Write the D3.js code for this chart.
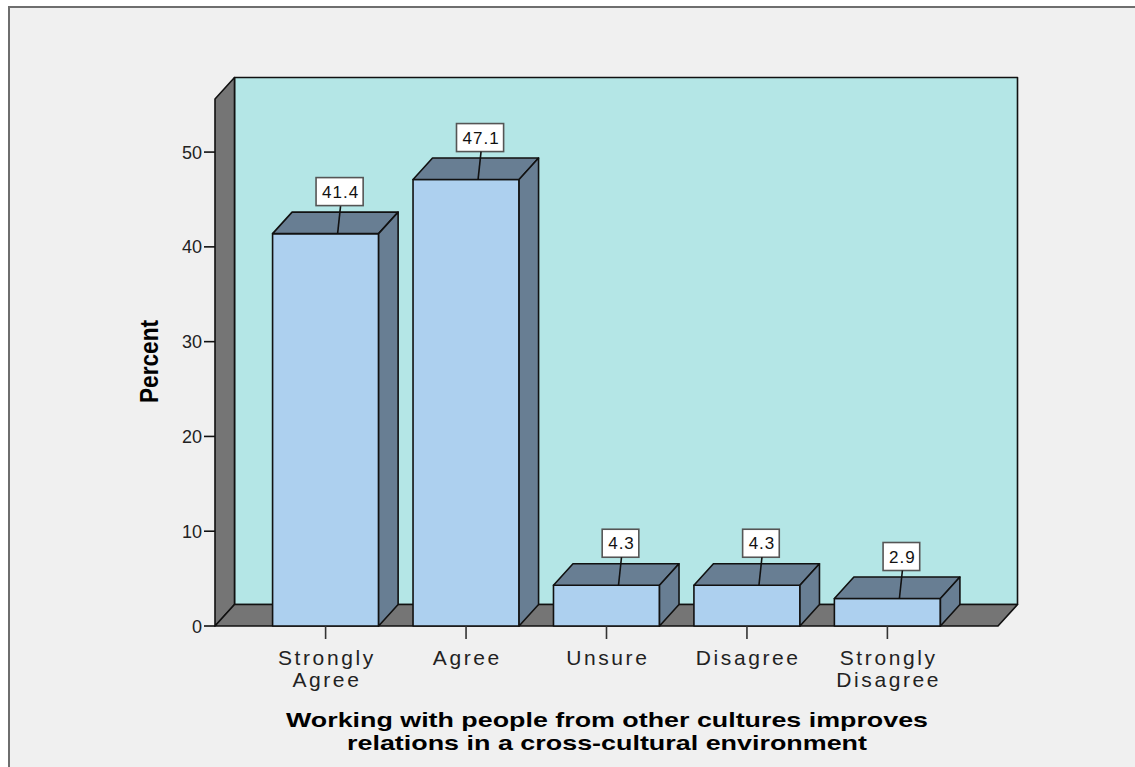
<!DOCTYPE html>
<html>
<head>
<meta charset="utf-8">
<script src="https://cdn.jsdelivr.net/npm/d3@7"></script>
<style>
  html, body { margin: 0; padding: 0; background: #ffffff; }
  svg { display: block; }
  text { font-family: "Liberation Sans", Arial, sans-serif; }
</style>
</head>
<body>
<svg id="chart" width="1135" height="767"></svg>
<script>
// Survey responses (percent of respondents)
const categories = [["Strongly", "Agree"], ["Agree"], ["Unsure"], ["Disagree"], ["Strongly", "Disagree"]];
const percents = [41.4, 47.1, 4.3, 4.3, 2.9];
const yTicks = [0, 10, 20, 30, 40, 50];
const yTop = 55.6;
const yTitle = "Percent";
const xTitle = ["Working with people from other cultures improves", "relations in a cross-cultural environment"];

const W = 1135, H = 767;
const svg = d3.select("#chart");

// palette
const C = {
  page: "#f0f0f0",
  frame: "#6e6e6e",
  wall: "#b4e6e6",
  side: "#757575",
  barFront: "#add0ef",
  barShade: "#687e93",
  ink: "#111111"
};

// 3-D depth offset of the chart box
const DX = 19.5, DY = 21.5;

// outer frame
svg.append("rect").attr("x", 0).attr("y", 0).attr("width", W).attr("height", H).attr("fill", "#ffffff");
svg.append("rect").attr("x", 9).attr("y", 7).attr("width", W + 20).attr("height", H + 20)
  .attr("fill", C.page).attr("stroke", C.frame).attr("stroke-width", 2);

const x0 = 215, x1 = 998;
const x = d3.scaleBand()
  .domain(d3.range(categories.length))
  .range([x0, x1])
  .paddingInner(0.245)
  .paddingOuter(0.41);

const y = d3.scaleLinear().domain([0, yTop]).range([626, 99]);
const yb = v => y(v) - DY;   // back plane

const line = d3.line();
const poly = (pts, fill) => svg.append("path")
  .attr("d", line(pts) + "Z")
  .attr("fill", fill)
  .attr("stroke", C.ink)
  .attr("stroke-width", 1.6)
  .attr("stroke-linejoin", "round");

// back wall
poly([[x0 + DX, yb(yTop)], [x1 + DX, yb(yTop)], [x1 + DX, yb(0)], [x0 + DX, yb(0)]], C.wall);
// left wall
poly([[x0, y(yTop)], [x0 + DX, yb(yTop)], [x0 + DX, yb(0)], [x0, y(0)]], C.side);
// floor
poly([[x0, y(0)], [x0 + DX, yb(0)], [x1 + DX, yb(0)], [x1, y(0)]], C.side);

// bars
const bars = svg.append("g");
percents.forEach((v, i) => {
  const l = x(i), r = x(i) + x.bandwidth();
  // front face
  bars.append("path").attr("d", line([[l, y(v)], [r, y(v)], [r, y(0)], [l, y(0)]]) + "Z")
    .attr("fill", C.barFront).attr("stroke", C.ink).attr("stroke-width", 1.6).attr("stroke-linejoin", "round");
  // top face
  bars.append("path").attr("d", line([[l, y(v)], [l + DX, yb(v)], [r + DX, yb(v)], [r, y(v)]]) + "Z")
    .attr("fill", C.barShade).attr("stroke", C.ink).attr("stroke-width", 1.6).attr("stroke-linejoin", "round");
  // side face
  bars.append("path").attr("d", line([[r, y(v)], [r + DX, yb(v)], [r + DX, yb(0)], [r, y(0)]]) + "Z")
    .attr("fill", C.barShade).attr("stroke", C.ink).attr("stroke-width", 1.6).attr("stroke-linejoin", "round");
});

// value labels with leader lines
const labels = svg.append("g");
percents.forEach((v, i) => {
  const cx = x(i) + x.bandwidth() / 2;
  const bx = cx + 15;
  const boxBottom = y(v) - 28;
  const boxH = 28;
  labels.append("line")
    .attr("x1", bx).attr("y1", boxBottom)
    .attr("x2", cx + 12).attr("y2", y(v))
    .attr("stroke", C.ink).attr("stroke-width", 1.6);
  const t = labels.append("text")
    .attr("x", bx).attr("y", boxBottom - boxH / 2 + 6)
    .attr("text-anchor", "middle")
    .attr("font-size", 17)
    .attr("letter-spacing", 1)
    .attr("fill", "#111")
    .text(d3.format(".1f")(v));
  const w = t.node().getComputedTextLength();
  labels.insert("rect", "text")
    .attr("x", bx - w / 2 - 6).attr("y", boxBottom - boxH)
    .attr("width", w + 10).attr("height", boxH)
    .attr("fill", "#ffffff").attr("stroke", "#555").attr("stroke-width", 1.6);
});

// y axis ticks and labels
const yAxis = svg.append("g");
yTicks.forEach(t => {
  yAxis.append("line").attr("x1", x0 - 11).attr("x2", x0).attr("y1", y(t)).attr("y2", y(t))
    .attr("stroke", C.ink).attr("stroke-width", 1.6);
  yAxis.append("text").attr("x", x0 - 13).attr("y", y(t) + 6.5)
    .attr("text-anchor", "end").attr("font-size", 18).attr("fill", "#222").text(t);
});

// x axis ticks and category labels
const xAxis = svg.append("g");
categories.forEach((lines, i) => {
  const cx = x(i) + x.bandwidth() / 2;
  xAxis.append("line").attr("x1", cx).attr("x2", cx).attr("y1", y(0)).attr("y2", y(0) + 13)
    .attr("stroke", "#333").attr("stroke-width", 1.6);
  lines.forEach((s, k) => {
    xAxis.append("text").attr("x", cx + 1.3).attr("y", 665 + k * 21.5)
      .attr("text-anchor", "middle").attr("font-size", 21).attr("letter-spacing", 2.6)
      .attr("fill", "#222").text(s);
  });
});

// axis titles
svg.append("text")
  .attr("transform", "translate(158,361.5) rotate(-90)")
  .attr("text-anchor", "middle").attr("font-size", 25).attr("font-weight", "bold")
  .attr("textLength", 83).attr("lengthAdjust", "spacingAndGlyphs")
  .attr("fill", "#000").text(yTitle);

const titleLens = [642, 520];
xTitle.forEach((s, k) => {
  svg.append("text").attr("x", 607).attr("y", 727 + k * 23)
    .attr("text-anchor", "middle").attr("font-size", 21).attr("font-weight", "bold")
    .attr("textLength", titleLens[k]).attr("lengthAdjust", "spacingAndGlyphs")
    .attr("fill", "#000").text(s);
});
</script>
</body>
</html>
